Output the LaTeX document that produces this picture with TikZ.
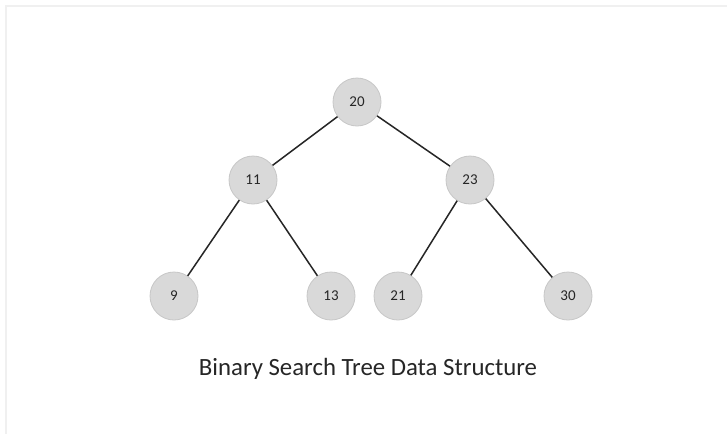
\documentclass[tikz,border=0pt]{standalone}
\usepackage{fontspec}
\setmainfont{Carlito}
\begin{document}
\begin{tikzpicture}[x=1pt,y=-1pt,
  bstnode/.style={circle, minimum size=48pt, inner sep=0pt, fill=black!15, draw=black!22, line width=0.8pt, font=\fontsize{15}{18}\selectfont, text=black!85},
  edge/.style={draw=black!85, line width=1.5pt}]
  % page and faint frame
  \fill[white] (0,0) rectangle (727,434);
  \useasboundingbox (0,0) rectangle (727,434);
  \draw[black!6, line width=2pt] (6,434) -- (6,6) -- (727,6);
  % tree nodes
  \node[bstnode] (n20) at (357,102) {20};
  \node[bstnode] (n11) at (253,180) {11};
  \node[bstnode] (n23) at (470,180) {23};
  \node[bstnode] (n9)  at (174,296) {9};
  \node[bstnode] (n13) at (331,296) {13};
  \node[bstnode] (n21) at (398,296) {21};
  \node[bstnode] (n30) at (568,296) {30};
  % edges
  \draw[edge] (n20) -- (n11);
  \draw[edge] (n20) -- (n23);
  \draw[edge] (n11) -- (n9);
  \draw[edge] (n11) -- (n13);
  \draw[edge] (n23) -- (n21);
  \draw[edge] (n23) -- (n30);
  % caption
  \node[font=\fontsize{24.8}{28}\selectfont, text=black!85] (cap) at (368,369) {Binary Search Tree Data Structure};
\end{tikzpicture}
\end{document}
